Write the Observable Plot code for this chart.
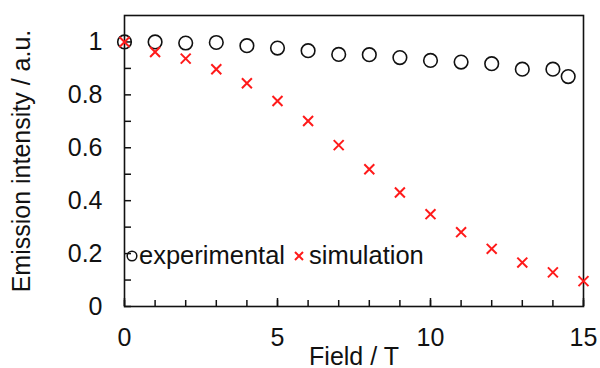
<!DOCTYPE html>
<html>
<head>
<meta charset="utf-8">
<script src="https://cdn.jsdelivr.net/npm/d3@7"></script>
<script src="https://cdn.jsdelivr.net/npm/@observablehq/plot@0.6"></script>
<style>
  html, body { margin: 0; padding: 0; background: #fff; }
  #wrap { position: relative; width: 600px; height: 368px; font-family: "Liberation Sans", Arial, sans-serif; }
  #legend { position: absolute; left: 124px; top: 241px; font-size: 25.5px; color: #111; display: flex; align-items: center; white-space: nowrap; }
  #legend svg { display: inline-block; }
</style>
</head>
<body>
<div id="wrap"></div>
<script>
// Data
const expField = [0, 1, 2, 3, 4, 5, 6, 7, 8, 9, 10, 11, 12, 13, 14, 14.5];
const expIntensity = [1.0, 1.0, 0.996, 0.998, 0.986, 0.977, 0.967, 0.953, 0.952, 0.941, 0.930, 0.924, 0.918, 0.897, 0.897, 0.869];
const simField = [0, 1, 2, 3, 4, 5, 6, 7, 8, 9, 10, 11, 12, 13, 14, 15];
const simIntensity = [1.0, 0.962, 0.937, 0.897, 0.844, 0.777, 0.701, 0.610, 0.519, 0.431, 0.349, 0.281, 0.218, 0.166, 0.129, 0.096];
const xTickLabels = [0, 5, 10, 15];
const xMinorTicks = d3.range(0, 16, 1);
const yTickLabels = [0, 0.2, 0.4, 0.6, 0.8, 1];
const yMinorTicks = [0, 0.1, 0.2, 0.3, 0.4, 0.5, 0.6, 0.7, 0.8, 0.9, 1.0];
const seriesNames = ["experimental", "simulation"];

const W = 600, H = 368;
const mL = 124, mR = 17, mT = 15, mB = 62;
const plotW = W - mL - mR, plotH = H - mT - mB;

const expData = expField.map((f, i) => ({field: f, value: expIntensity[i]}));
const simData = simField.map((f, i) => ({field: f, value: simIntensity[i]}));

const chart = Plot.plot({
  width: W, height: H,
  marginLeft: mL, marginRight: mR, marginTop: mT, marginBottom: mB,
  style: {fontFamily: "'Liberation Sans', Arial, sans-serif", fontSize: "25px", color: "#111", background: "#fff", overflow: "visible"},
  x: {domain: [0, 15]},
  y: {domain: [0, 1.1]},
  marks: [
    // inward ticks
    Plot.tickY(yMinorTicks, {y: d => d, stroke: "#111", strokeWidth: 1.5, insetRight: plotW - 7}),
    Plot.tickX(xMinorTicks, {x: d => d, stroke: "#111", strokeWidth: 1.5, insetTop: plotH - 6}),
    Plot.tickX(xTickLabels, {x: d => d, stroke: "#111", strokeWidth: 1.5, insetTop: plotH - 8}),
    Plot.axisY({ticks: yTickLabels, tickSize: 0, tickPadding: 22, tickFormat: d => String(+d.toFixed(1)),
      label: "Emission intensity / a.u.", labelAnchor: "center", labelArrow: "none", labelOffset: 112, fontSize: 25}),
    Plot.axisX({ticks: xTickLabels, tickSize: 0, tickPadding: 22, tickFormat: d => String(d),
      label: "Field / T", labelAnchor: "center", labelArrow: "none", labelOffset: 58, fontSize: 25}),
    Plot.frame({stroke: "#111", strokeWidth: 1.6}),
    Plot.dot(expData, {x: "field", y: "value", r: 6.8, stroke: "#111", strokeWidth: 1.6, fill: "none"}),
    Plot.dot(simData, {x: "field", y: "value", symbol: "times", r: 4.6, stroke: "#ff1a1a", strokeWidth: 2})
  ]
});
const wrap = document.getElementById("wrap");
wrap.appendChild(chart);

const legend = document.createElement("div");
legend.id = "legend";
legend.innerHTML =
  `<svg width="14" height="12" style="margin-right:1px"><circle cx="8" cy="6" r="4.8" fill="none" stroke="#111" stroke-width="1.5"/></svg>` +
  `<span>${seriesNames[0]}</span>` +
  `<svg width="12" height="12" style="margin-left:8px;margin-right:4px"><path d="M2,2L10,10M10,2L2,10" stroke="#ff1a1a" stroke-width="2"/></svg>` +
  `<span>${seriesNames[1]}</span>`;
wrap.appendChild(legend);
</script>
</body>
</html>
